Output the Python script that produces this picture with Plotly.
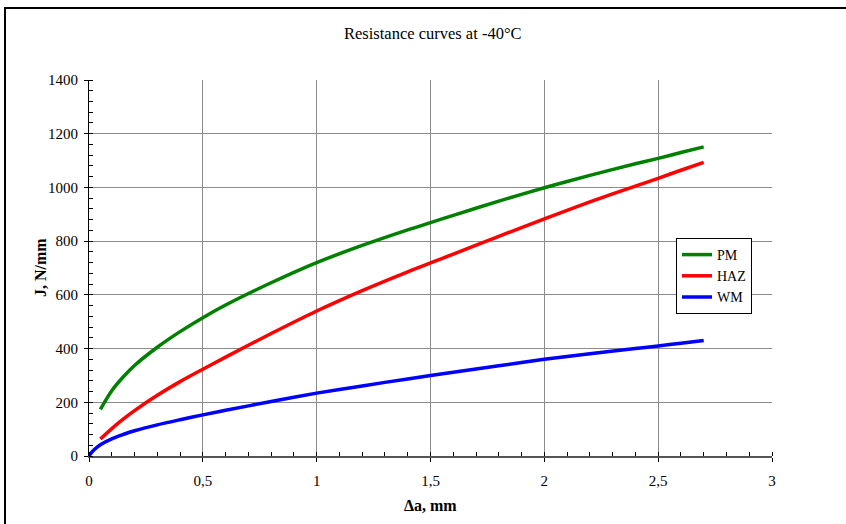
import plotly.graph_objects as go

# ---- data ----
pm_x = [0.05, 0.1, 0.15, 0.2, 0.3, 0.4, 0.5, 0.6, 0.8, 1.0, 1.2, 1.4, 1.5, 1.6, 1.8, 2.0, 2.2, 2.4, 2.5, 2.6, 2.7]
pm_y = [174, 243, 294, 337, 405, 463, 515, 562, 645, 720, 784, 842, 869, 896, 949, 999, 1045, 1088, 1108, 1130, 1151]

haz_x = [0.05, 0.1, 0.15, 0.2, 0.3, 0.4, 0.5, 0.6, 0.8, 1.0, 1.2, 1.4, 1.5, 1.6, 1.8, 2.0, 2.2, 2.4, 2.5, 2.6, 2.7]
haz_y = [63, 102, 137, 169, 226, 277, 323, 368, 456, 540, 616, 686, 719, 752, 818, 883, 946, 1005, 1034, 1064, 1093]

wm_x = [0.0, 0.01, 0.025, 0.05, 0.1, 0.15, 0.2, 0.3, 0.4, 0.5, 0.6, 0.8, 1.0, 1.2, 1.4, 1.6, 1.8, 2.0, 2.2, 2.4, 2.5, 2.6, 2.7]
wm_y = [0, 12, 25, 42, 64, 80, 94, 116, 135, 153, 170, 203, 234, 261, 287, 312, 336, 360, 381, 400, 410, 420, 430]

x_tickvals = [0, 0.5, 1, 1.5, 2, 2.5, 3]
x_ticktext = ["0", "0,5", "1", "1,5", "2", "2,5", "3"]
y_tickvals = [0, 200, 400, 600, 800, 1000, 1200, 1400]

series_names = ["PM", "HAZ", "WM"]
series_colors = ["#008000", "#FF0000", "#0000FF"]

FONT = "Liberation Serif, Times New Roman, serif"

fig = go.Figure()
for name, xs, ys, col in zip(series_names, [pm_x, haz_x, wm_x], [pm_y, haz_y, wm_y], series_colors):
    fig.add_trace(go.Scatter(x=xs, y=ys, mode="lines", name=name,
                             line=dict(color=col, width=3.5, shape="spline", smoothing=0.8)))

W, H = 846, 524
L, R, T, B = 89, 74, 80, 68
pw, ph = W - L - R, H - T - B

def px_to_paper_x(px):
    return (px - L) / pw

def py_to_paper_y(py):
    return (H - B - py) / ph

fig.update_layout(
    width=W, height=H,
    margin=dict(l=L, r=R, t=T, b=B, pad=0),
    paper_bgcolor="white", plot_bgcolor="white",
    font=dict(family=FONT, size=15, color="black"),
    showlegend=True,
    legend=dict(x=px_to_paper_x(752), xanchor="right", y=py_to_paper_y(238), yanchor="top",
                bgcolor="white", bordercolor="black", borderwidth=1,
                font=dict(family=FONT, size=14, color="black"),
                itemwidth=30, tracegroupgap=0),
    xaxis=dict(range=[0, 3], tickvals=x_tickvals, ticktext=x_ticktext,
               showgrid=True, gridcolor="#8c8c8c", gridwidth=1, zeroline=False,
               showline=True, linecolor="#555555", linewidth=2,
               ticks="outside", ticklen=4, tickcolor="black", tickwidth=1,
               ticklabelstandoff=6,
               minor=dict(dtick=0.1, ticks="inside", ticklen=4, tickcolor="black", showgrid=False),
               tickfont=dict(family=FONT, size=15)),
    yaxis=dict(range=[0, 1400], tickvals=y_tickvals,
               showgrid=True, gridcolor="#8c8c8c", gridwidth=1, zeroline=False,
               showline=True, linecolor="black", linewidth=1,
               ticks="outside", ticklen=4, tickcolor="black", tickwidth=1,
               ticklabelstandoff=3,
               minor=dict(dtick=40, ticks="inside", ticklen=4, tickcolor="black", showgrid=False),
               tickfont=dict(family=FONT, size=15)),
)

fig.add_annotation(text="Resistance curves at -40°C", xref="paper", yref="paper",
                   x=px_to_paper_x(433), y=py_to_paper_y(33), xanchor="center", yanchor="middle",
                   showarrow=False, font=dict(family=FONT, size=16.5, color="black"))
fig.add_annotation(text="<b>J, N/mm</b>", xref="paper", yref="paper",
                   x=px_to_paper_x(40), y=0.5, textangle=-90, xanchor="center", yanchor="middle",
                   showarrow=False, font=dict(family=FONT, size=16, color="black"))
fig.add_annotation(text="<b>Δa, mm</b>", xref="paper", yref="paper",
                   x=px_to_paper_x(430), y=py_to_paper_y(505), xanchor="center", yanchor="middle",
                   showarrow=False, font=dict(family=FONT, size=16, color="black"))

# outer chart frame (left/top edges visible in the reference)
fig.add_shape(type="rect", xref="paper", yref="paper",
              x0=px_to_paper_x(5), x1=px_to_paper_x(860),
              y0=py_to_paper_y(540), y1=py_to_paper_y(8),
              line=dict(color="black", width=2), fillcolor="rgba(0,0,0,0)", layer="below")

fig.write_html("out.html")
